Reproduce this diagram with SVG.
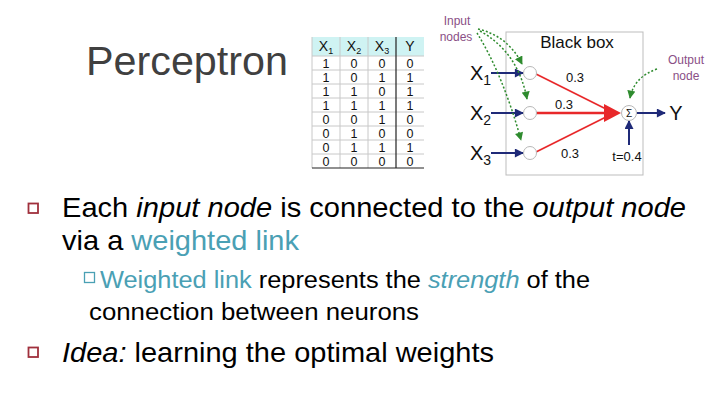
<svg xmlns="http://www.w3.org/2000/svg" width="720" height="405" viewBox="0 0 720 405">
<style>
  .sans{font-family:"Liberation Sans",Arial,sans-serif}
  .body{font-family:"Liberation Sans",Arial,sans-serif;fill:#000}
  .teal{fill:#4aa0b4}
  .cell{font-family:"Liberation Sans",Arial,sans-serif;font-size:12.5px;fill:#111;text-anchor:middle}
  .hdr{font-family:"Liberation Sans",Arial,sans-serif;font-size:14px;fill:#111;text-anchor:middle}
  .grid{stroke:#c8c8c8;stroke-width:1}
  .purple{font-family:"Liberation Sans",Arial,sans-serif;font-size:12px;fill:#8a4f86;text-anchor:middle}
  .navy{stroke:#1f2a78;stroke-width:2;fill:none}
  .red{stroke:#e8282a;fill:none}
  .green{stroke:#2e8b2e;stroke-width:1.5;stroke-dasharray:2 2;fill:none}
  .node{fill:#fff;stroke:#b8b8b8;stroke-width:1}
  .lbl{font-family:"Liberation Sans",Arial,sans-serif;fill:#111}
</style>
<defs>
  <marker id="navyArrow" viewBox="0 0 10 10" refX="9" refY="5" markerWidth="5" markerHeight="4.5" orient="auto" markerUnits="strokeWidth">
    <path d="M0,0 L10,5 L0,10 Z" fill="#1f2a78"/>
  </marker>
  <marker id="greenArrow" viewBox="0 0 10 10" refX="9" refY="5" markerWidth="6" markerHeight="5.5" orient="auto" markerUnits="strokeWidth">
    <path d="M0,0 L10,5 L0,10 Z" fill="#2e8b2e"/>
  </marker>
</defs>
<rect width="720" height="405" fill="#fff"/>

<g id="title">
  <text class="sans" x="86" y="75" font-size="41" fill="#404040" textLength="202" lengthAdjust="spacingAndGlyphs">Perceptron</text>
</g>

<g id="truth-table">
  <rect x="312" y="37" width="112" height="19" fill="#cff3f3"/>
  <g class="grid">
    <line x1="312" y1="56" x2="424" y2="56"/>
    <line x1="312" y1="70" x2="424" y2="70"/>
    <line x1="312" y1="84" x2="424" y2="84"/>
    <line x1="312" y1="98" x2="424" y2="98"/>
    <line x1="312" y1="112" x2="424" y2="112"/>
    <line x1="312" y1="126" x2="424" y2="126"/>
    <line x1="312" y1="140" x2="424" y2="140"/>
    <line x1="312" y1="154" x2="424" y2="154"/>
    <line x1="312" y1="37" x2="312" y2="168"/>
    <line x1="340" y1="37" x2="340" y2="168"/>
    <line x1="368" y1="37" x2="368" y2="168"/>
  </g>
  <line x1="396" y1="37" x2="396" y2="168" stroke="#222" stroke-width="1.2"/>
  <line x1="312" y1="168" x2="424" y2="168" stroke="#222" stroke-width="1.2"/>
  <text class="hdr" x="326" y="51">X<tspan font-size="9" dy="3">1</tspan></text>
  <text class="hdr" x="354" y="51">X<tspan font-size="9" dy="3">2</tspan></text>
  <text class="hdr" x="382" y="51">X<tspan font-size="9" dy="3">3</tspan></text>
  <text class="hdr" x="410" y="51">Y</text>
  <g>
    <text class="cell" x="326" y="67.5">1</text><text class="cell" x="354" y="67.5">0</text><text class="cell" x="382" y="67.5">0</text><text class="cell" x="410" y="67.5">0</text>
    <text class="cell" x="326" y="81.5">1</text><text class="cell" x="354" y="81.5">0</text><text class="cell" x="382" y="81.5">1</text><text class="cell" x="410" y="81.5">1</text>
    <text class="cell" x="326" y="95.5">1</text><text class="cell" x="354" y="95.5">1</text><text class="cell" x="382" y="95.5">0</text><text class="cell" x="410" y="95.5">1</text>
    <text class="cell" x="326" y="109.5">1</text><text class="cell" x="354" y="109.5">1</text><text class="cell" x="382" y="109.5">1</text><text class="cell" x="410" y="109.5">1</text>
    <text class="cell" x="326" y="123.5">0</text><text class="cell" x="354" y="123.5">0</text><text class="cell" x="382" y="123.5">1</text><text class="cell" x="410" y="123.5">0</text>
    <text class="cell" x="326" y="137.5">0</text><text class="cell" x="354" y="137.5">1</text><text class="cell" x="382" y="137.5">0</text><text class="cell" x="410" y="137.5">0</text>
    <text class="cell" x="326" y="151.5">0</text><text class="cell" x="354" y="151.5">1</text><text class="cell" x="382" y="151.5">1</text><text class="cell" x="410" y="151.5">1</text>
    <text class="cell" x="326" y="165.5">0</text><text class="cell" x="354" y="165.5">0</text><text class="cell" x="382" y="165.5">0</text><text class="cell" x="410" y="165.5">0</text>
  </g>
</g>

<g id="black-box">
  <rect x="506" y="32" width="137" height="143" fill="none" stroke="#bdbdbd" stroke-width="1"/>
  <text class="lbl" x="577" y="48" font-size="17" text-anchor="middle">Black box</text>
</g>

<g id="labels">
  <text class="purple" x="457" y="25">Input</text>
  <text class="purple" x="456" y="41">nodes</text>
  <text class="purple" x="686" y="64">Output</text>
  <text class="purple" x="686" y="80">node</text>
  <text class="lbl" x="470" y="80" font-size="20">X<tspan font-size="14" dy="5">1</tspan></text>
  <text class="lbl" x="470" y="120" font-size="20">X<tspan font-size="14" dy="5">2</tspan></text>
  <text class="lbl" x="470" y="160" font-size="20">X<tspan font-size="14" dy="5">3</tspan></text>
  <text class="lbl" x="575" y="82" font-size="13" text-anchor="middle">0.3</text>
  <text class="lbl" x="564" y="109" font-size="13" text-anchor="middle">0.3</text>
  <text class="lbl" x="570" y="158" font-size="13" text-anchor="middle">0.3</text>
  <text class="lbl" x="676" y="120" font-size="20" text-anchor="middle">Y</text>
  <text class="lbl" x="627" y="161" font-size="13" text-anchor="middle">t=0.4</text>
</g>

<g id="connectors">
  <line class="navy" x1="491" y1="73" x2="523" y2="73" marker-end="url(#navyArrow)"/>
  <line class="navy" x1="491" y1="113" x2="523" y2="113" marker-end="url(#navyArrow)"/>
  <line class="navy" x1="491" y1="153" x2="523" y2="153" marker-end="url(#navyArrow)"/>
  <line class="red" x1="536" y1="74" x2="610" y2="111" stroke-width="1.6"/>
  <line class="red" x1="536" y1="113" x2="610" y2="113" stroke-width="2.6"/>
  <line class="red" x1="536" y1="152" x2="610" y2="115" stroke-width="1.6"/>
  <path d="M604,104 L621,113 L604,122 Z" fill="#e8282a"/>
  <line class="navy" x1="637" y1="113" x2="665" y2="113" marker-end="url(#navyArrow)"/>
  <line class="navy" x1="629" y1="145" x2="629" y2="121" marker-end="url(#navyArrow)"/>
  <path class="green" d="M478,29 Q508,36 522,64" marker-end="url(#greenArrow)"/>
  <path class="green" d="M480,31 Q518,52 527,99" marker-end="url(#greenArrow)"/>
  <path class="green" d="M477,33 Q503,75 521,140" marker-end="url(#greenArrow)"/>
  <path class="green" d="M657,69 Q634,77 630,98" marker-end="url(#greenArrow)"/>
</g>

<g id="input-node-1"><circle class="node" cx="530" cy="73" r="6.5"/></g>
<g id="input-node-2"><circle class="node" cx="530" cy="113" r="6.5"/></g>
<g id="input-node-3"><circle class="node" cx="530" cy="153" r="6.5"/></g>
<g id="output-node">
  <circle class="node" cx="629" cy="113" r="7.5"/>
  <text class="lbl" x="629" y="117" font-size="10" text-anchor="middle">Σ</text>
</g>

<g id="bullets">
  <rect x="28.5" y="203.5" width="9.5" height="9.5" fill="none" stroke="#a0303c" stroke-width="1.8"/>
  <text class="body" x="62" y="217" font-size="28" textLength="624" lengthAdjust="spacingAndGlyphs">Each <tspan font-style="italic">input node</tspan> is connected to the <tspan font-style="italic">output node</tspan></text>
  <text class="body" x="62" y="250" font-size="28" textLength="237" lengthAdjust="spacingAndGlyphs">via a <tspan class="teal">weighted link</tspan></text>
  <rect x="84.5" y="272.5" width="10" height="10" fill="none" stroke="#4aa0b4" stroke-width="1.3"/>
  <text class="body" x="100" y="288" font-size="23" textLength="490" lengthAdjust="spacingAndGlyphs"><tspan class="teal">Weighted link</tspan> represents the <tspan class="teal" font-style="italic">strength</tspan> of the</text>
  <text class="body" x="89" y="320" font-size="23" textLength="330" lengthAdjust="spacingAndGlyphs">connection between neurons</text>
  <rect x="28.5" y="347.5" width="9.5" height="9.5" fill="none" stroke="#a0303c" stroke-width="1.8"/>
  <text class="body" x="62" y="362" font-size="28" textLength="432" lengthAdjust="spacingAndGlyphs"><tspan font-style="italic">Idea:</tspan> learning the optimal weights</text>
</g>
</svg>
